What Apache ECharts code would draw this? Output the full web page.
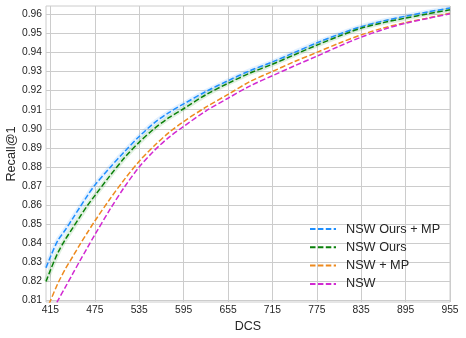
<!DOCTYPE html>
<html>
<head>
<meta charset="utf-8">
<script src="https://cdn.jsdelivr.net/npm/echarts@6/dist/echarts.min.js"></script>
<style>
  html, body { margin: 0; padding: 0; background: #fff; }
  #chart { width: 466px; height: 338px; }
</style>
</head>
<body>
<div id="chart"></div>
<script>
// DCS 取值和四条曲线
var dcs = [409, 415, 425, 435, 445, 455, 465, 475, 495, 515, 535, 555, 575, 595,
           625, 655, 685, 715, 745, 775, 805, 835, 865, 895, 925, 955];
var oursMP = [0.8272, 0.8330, 0.8415, 0.8470, 0.8530, 0.8590, 0.8650, 0.8705, 0.8795, 0.8880,
              0.8960, 0.9030, 0.9085, 0.9130, 0.9195, 0.9252, 0.9305, 0.9350, 0.9400, 0.9450,
              0.9495, 0.9535, 0.9565, 0.9590, 0.9612, 0.9632];
var ours = [0.8200, 0.8260, 0.8350, 0.8420, 0.8480, 0.8540, 0.8598, 0.8650, 0.8752, 0.8848,
            0.8930, 0.9000, 0.9058, 0.9105, 0.9178, 0.9238, 0.9292, 0.9338, 0.9388, 0.9438,
            0.9485, 0.9527, 0.9556, 0.9580, 0.9602, 0.9623];
var nswMP = [0.8045, 0.8100, 0.8190, 0.8265, 0.8330, 0.8395, 0.8457, 0.8517, 0.8630, 0.8735,
             0.8830, 0.8910, 0.8980, 0.9038, 0.9113, 0.9180, 0.9248, 0.9300, 0.9352, 0.9400,
             0.9448, 0.9492, 0.9528, 0.9556, 0.9580, 0.9605];
var nsw = [0.7980, 0.8030, 0.8100, 0.8170, 0.8240, 0.8310, 0.8378, 0.8445, 0.8575, 0.8695,
           0.8800, 0.8885, 0.8955, 0.9012, 0.9093, 0.9160, 0.9225, 0.9278, 0.9330, 0.9380,
           0.9432, 0.9480, 0.9520, 0.9553, 0.9578, 0.9602];
var xTicks = [415, 475, 535, 595, 655, 715, 775, 835, 895, 955];
var yTicks = [0.81, 0.82, 0.83, 0.84, 0.85, 0.86, 0.87, 0.88, 0.89, 0.90,
              0.91, 0.92, 0.93, 0.94, 0.95, 0.96];
var names = ['NSW Ours + MP', 'NSW Ours', 'NSW + MP', 'NSW'];
var colors = ['#1e8fff', '#0a800a', '#ee8a1e', '#d22ad2'];

function pairs(ys) {
    return dcs.map(function (x, i) { return [x, ys[i]]; });
}

var font = 'Liberation Sans, Arial, sans-serif';

function dashLine(name, ys, color) {
    return {
        name: name,
        type: 'line',
        data: pairs(ys),
        symbol: 'none',
        smooth: 0.3,
        z: 3,
        lineStyle: { color: color, width: 1.5, type: [5.5, 2.4] },
        itemStyle: { color: color }
    };
}
// 蓝绿两条线外面的浅色带
function band(ys, color) {
    return {
        type: 'line',
        data: pairs(ys),
        symbol: 'none',
        smooth: 0.3,
        silent: true,
        z: 2,
        lineStyle: { color: color, width: 5, opacity: 0.12 }
    };
}

var chart = echarts.init(document.getElementById('chart'));
var option = {
    backgroundColor: '#fff',
    animation: false,
    grid: {
        left: 46, right: 16, top: 6, bottom: 36,
        outerBoundsMode: 'none',
        containLabel: false,
        show: true, borderColor: '#cccccc', borderWidth: 1, backgroundColor: '#fff'
    },
    legend: {
        data: names,
        orient: 'vertical',
        left: 309,
        top: 222,
        padding: 0,
        itemWidth: 26,
        itemHeight: 10,
        itemGap: 4.3,
        itemStyle: { opacity: 0 },
        textStyle: {
            fontFamily: font, fontSize: 12.7, color: '#262626',
            lineHeight: 14, padding: [0, 0, 0, 5]
        }
    },
    xAxis: {
        type: 'value',
        min: 409,
        max: 955,
        name: 'DCS',
        nameLocation: 'middle',
        nameGap: 16,
        nameTextStyle: { fontFamily: font, fontSize: 12.5, color: '#262626' },
        axisLine: { show: false },
        axisTick: { show: false, customValues: xTicks },
        axisLabel: {
            customValues: xTicks, margin: 3,
            fontFamily: font, fontSize: 10.3, color: '#262626'
        },
        splitLine: { show: true, lineStyle: { color: '#cccccc', width: 1 } }
    },
    yAxis: {
        type: 'value',
        min: 0.8093,
        max: 0.9643,
        name: 'Recall@1',
        nameLocation: 'middle',
        nameGap: 28,
        nameMoveOverlap: false,
        nameTextStyle: { fontFamily: font, fontSize: 12.7, color: '#262626' },
        axisLine: { show: false },
        axisTick: { show: false, customValues: yTicks },
        axisLabel: {
            customValues: yTicks, margin: 4,
            fontFamily: font, fontSize: 10.3, color: '#262626',
            formatter: function (v) { return v.toFixed(2); }
        },
        splitLine: { show: true, lineStyle: { color: '#cccccc', width: 1 } }
    },
    series: [
        band(oursMP, colors[0]),
        band(ours, colors[1]),
        dashLine(names[0], oursMP, colors[0]),
        dashLine(names[1], ours, colors[1]),
        dashLine(names[2], nswMP, colors[2]),
        dashLine(names[3], nsw, colors[3])
    ]
};
chart.setOption(option);
</script>
</body>
</html>
